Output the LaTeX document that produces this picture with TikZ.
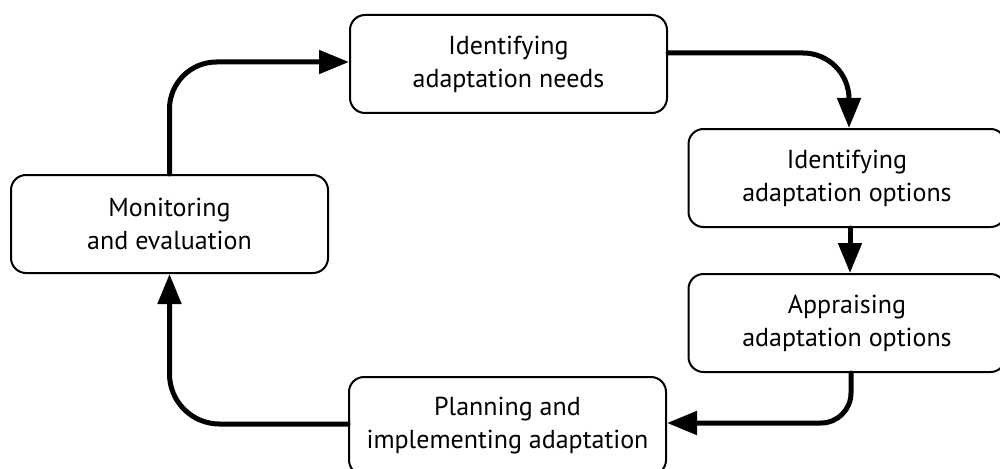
\documentclass[tikz,border=0pt]{standalone}
\usepackage{fontspec}
\setmainfont{PT Sans}
\usetikzlibrary{arrows.meta}
\begin{document}
\begin{tikzpicture}[x=1pt,y=-1pt,
  box/.style={draw=black,line width=2pt,rounded corners=15pt,fill=white,
    minimum width=317pt,minimum height=98pt,align=center,inner sep=0pt,
    font=\fontsize{26}{33}\selectfont},
  conn/.style={line width=5pt,line cap=round,-{Triangle[length=30pt,width=23pt]}}]
\useasboundingbox (0,0) rectangle (1000,468);
\clip (0,0) rectangle (1000,468);
\node[box] (needs) at (508.5,64) {Identifying\\adaptation needs};
\node[box] (opt) at (847,178) {Identifying\\adaptation options};
\node[box] (appr) at (847,323) {Appraising\\adaptation options};
\node[box] (plan) at (507.5,426) {Planning and\\implementing adaptation};
\node[box] (mon) at (169.5,224) {Monitoring\\and evaluation};
\draw[conn,rounded corners=47pt] (mon.north) |- ([yshift=2pt]needs.west);
\draw[conn,rounded corners=46pt] ([yshift=11pt]needs.east) -| ([xshift=2pt]opt.north);
\draw[conn] ([xshift=3pt]opt.south) -- ([xshift=3pt]appr.north);
\draw[conn,rounded corners=30pt] ([xshift=4pt]appr.south) |- ([yshift=3pt]plan.east);
\draw[conn,rounded corners=50pt] ([yshift=2pt]plan.west) -| (mon.south);
\end{tikzpicture}
\end{document}
